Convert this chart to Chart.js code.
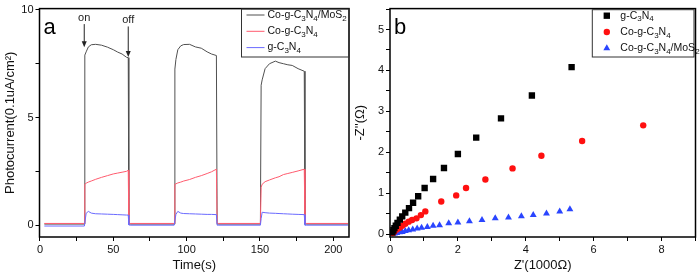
<!DOCTYPE html>
<html><head><meta charset="utf-8">
<script src="https://cdn.jsdelivr.net/npm/chart.js@4.4.0/dist/chart.umd.min.js"></script>
<style>
html,body{margin:0;padding:0;background:#fff;overflow:hidden}
#wrap{position:relative;width:700px;height:273px;background:#fff}
canvas{position:absolute;top:0}
#ca{left:0}
#cb{left:350px}
</style></head><body>
<div id="wrap"><canvas id="ca" width="350" height="273"></canvas><canvas id="cb" width="350" height="273"></canvas></div>
<script>
const FF = '"Liberation Sans", Arial, sans-serif';

// ---------- Panel a : photocurrent vs time ----------
const time = [3, 30.3, 30.6, 31.5, 33, 35, 38, 42, 46, 50, 53, 56, 59, 60.2, 60.6, 61.5,
  91.5, 92, 92.7, 94, 96, 98, 102, 106, 110, 114, 117, 120.3, 120.8, 121.5,
  150.3, 150.8, 151.5, 153.5, 156.5, 160.5, 163, 166, 169, 172, 176, 180.2, 180.7, 181.5, 210];
const photoCoMoS2 = [0.05, 0.05, 7.9, 8.05, 8.28, 8.38, 8.40, 8.36, 8.27, 8.15, 8.04, 7.95, 7.80, 7.78, 0.05, 0.05,
  0.05, 7.25, 7.7, 8.15, 8.33, 8.39, 8.40, 8.28, 8.22, 8.05, 7.95, 7.88, 0.05, 0.05,
  0.05, 6.5, 6.75, 7.27, 7.5, 7.62, 7.55, 7.5, 7.45, 7.42, 7.27, 7.15, 0.05, 0.05, 0.05];
const photoCo = [0.08, 0.08, 1.9, 1.95, 2.0, 2.05, 2.13, 2.22, 2.3, 2.38, 2.42, 2.46, 2.5, 2.55, 0.1, 0.08,
  0.08, 1.9, 1.92, 1.96, 2.0, 2.05, 2.12, 2.22, 2.3, 2.4, 2.48, 2.6, 0.1, 0.08,
  0.08, 1.76, 1.9, 2.02, 2.1, 2.2, 2.25, 2.35, 2.4, 2.45, 2.52, 2.6, 0.1, 0.08, 0.08];
const photoG = [-0.04, -0.04, -0.04, 0.55, 0.64, 0.56, 0.53, 0.52, 0.51, 0.5, 0.49, 0.48, 0.47, 0.47, 0.01, 0.0,
  0.0, 0.0, 0.5, 0.64, 0.56, 0.54, 0.53, 0.52, 0.51, 0.5, 0.5, 0.49, 0.0, 0.0,
  0.0, 0.3, 0.6, 0.58, 0.56, 0.55, 0.54, 0.53, 0.52, 0.51, 0.5, 0.49, 0.0, 0.0, 0.0];
const legendA = ['Co-g-C_3N_4/MoS_2', 'Co-g-C_3N_4', 'g-C_3N_4'];
const xLabelsA = [0, 50, 100, 150, 200];
const yLabelsA = [0, 5, 10];
const switchTimes = [30.2, 60.2];
const switchNames = ['on', 'off'];
const arrowFrom = [9.34, 9.23];
const arrowTo = [8.27, 7.81];

// ---------- Panel b : Nyquist plot ----------
const zReG = [5.35, 4.18, 3.27, 2.54, 2.0, 1.59, 1.27, 1.02, 0.83, 0.68, 0.56, 0.45, 0.36, 0.29, 0.22, 0.17, 0.13, 0.1, 0.07];
const zImG = [4.08, 3.39, 2.83, 2.36, 1.96, 1.62, 1.35, 1.13, 0.93, 0.77, 0.64, 0.53, 0.44, 0.36, 0.28, 0.21, 0.15, 0.1, 0.05];
const zReCo = [7.46, 5.66, 4.46, 3.61, 2.81, 2.24, 1.95, 1.51, 1.04, 0.91, 0.78, 0.65, 0.55, 0.45, 0.36, 0.28, 0.2, 0.13, 0.08];
const zImCo = [2.66, 2.28, 1.92, 1.61, 1.34, 1.13, 0.95, 0.80, 0.56, 0.47, 0.39, 0.35, 0.31, 0.26, 0.21, 0.16, 0.12, 0.07, 0.03];
const zReMo = [5.30, 5.0, 4.61, 4.22, 3.87, 3.49, 3.10, 2.71, 2.34, 2.0, 1.73, 1.46, 1.27, 1.10, 0.93, 0.8, 0.67, 0.55, 0.45, 0.36, 0.28, 0.2, 0.13, 0.07];
const zImMo = [0.61, 0.56, 0.51, 0.47, 0.44, 0.41, 0.39, 0.35, 0.32, 0.29, 0.27, 0.22, 0.21, 0.18, 0.16, 0.14, 0.12, 0.1, 0.08, 0.06, 0.05, 0.03, 0.02, 0.01];
const legendB = ['g-C_3N_4', 'Co-g-C_3N_4', 'Co-g-C_3N_4/MoS_2'];
const xLabelsB = [0, 2, 4, 6, 8];
const yLabelsB = [0, 1, 2, 3, 4, 5];

// ---------- helpers ----------
function drawRich(ctx, str, x, y, size) {
  const parts = str.split(/(_\d)/);
  let cx = x;
  ctx.textBaseline = 'middle';
  ctx.textAlign = 'left';
  for (const p of parts) {
    if (!p) continue;
    if (p[0] === '_') {
      ctx.font = Math.round(size * 0.72) + 'px ' + FF;
      ctx.fillText(p[1], cx, y + size * 0.32);
      cx += ctx.measureText(p[1]).width;
    } else {
      ctx.font = size + 'px ' + FF;
      ctx.fillText(p, cx, y);
      cx += ctx.measureText(p).width;
    }
  }
}
function pts(xs, ys) { return xs.map((v, i) => ({x: v, y: ys[i]})); }

function axisCommon(min, max, step, labels, fitKey, fitVal, title, titlePad) {
  return {
    type: 'linear', min: min, max: max,
    afterFit(s) { s[fitKey] = fitVal; },
    grid: {display: true, drawOnChartArea: false, drawTicks: true, tickLength: 4, color: '#000', tickColor: '#000', tickWidth: 1},
    border: {display: false},
    ticks: {stepSize: step, includeBounds: false, autoSkip: false, maxRotation: 0, padding: 2, color: '#111',
      font: {size: 11, family: FF},
      callback: (v) => labels.some(l => Math.abs(l - v) < 1e-6) ? String(Math.round(v)) : ''},
    title: {display: true, text: title, color: '#111', font: {size: 13, family: FF}, padding: titlePad}
  };
}

const framePlugin = {
  id: 'frame',
  afterDraw(chart) {
    const ctx = chart.ctx, a = chart.chartArea, o = chart.options.plugins.frame;
    ctx.save();
    ctx.strokeStyle = '#000';
    ctx.lineWidth = 1.5;
    ctx.strokeRect(a.left, a.top, a.right - a.left, a.bottom - a.top);
    // panel letter
    ctx.fillStyle = '#000';
    ctx.font = '22px ' + FF;
    ctx.textBaseline = 'alphabetic';
    ctx.textAlign = 'left';
    ctx.fillText(o.letter, a.left + 4, a.top + 25);
    // legend box
    const lb = o.legendBox;
    ctx.lineWidth = 1;
    ctx.strokeStyle = '#333';
    ctx.strokeRect(lb.x, lb.y, lb.w, lb.h);
    chart.data.datasets.forEach((ds, i) => {
      const ry = lb.y + 6 + i * 16.3;
      if (o.kind === 'line') {
        ctx.strokeStyle = ds.borderColor;
        ctx.lineWidth = 1;
        ctx.beginPath();
        ctx.moveTo(lb.x + 5, ry);
        ctx.lineTo(lb.x + 23, ry);
        ctx.stroke();
        ctx.fillStyle = '#111';
        drawRich(ctx, o.labels[i], lb.x + 26, ry, 10.5);
      } else {
        ctx.fillStyle = ds.backgroundColor;
        ctx.strokeStyle = ds.borderColor;
        Chart.helpers.drawPoint(ctx, {pointStyle: ds.pointStyle, radius: ds.pointRadius, rotation: 0, borderWidth: 0}, lb.x + 14.5, ry);
        ctx.fillStyle = '#111';
        drawRich(ctx, o.labels[i], lb.x + 28, ry, 10.5);
      }
    });
    // on/off arrows
    if (o.arrows) {
      const xs = chart.scales.x, ys = chart.scales.y;
      ctx.strokeStyle = '#222';
      ctx.fillStyle = '#222';
      ctx.lineWidth = 1;
      switchTimes.forEach((t, i) => {
        const px = xs.getPixelForValue(t);
        const y0 = ys.getPixelForValue(arrowFrom[i]);
        const y1 = ys.getPixelForValue(arrowTo[i]);
        ctx.beginPath(); ctx.moveTo(px, y0); ctx.lineTo(px, y1 - 4); ctx.stroke();
        ctx.beginPath(); ctx.moveTo(px - 2.5, y1 - 6); ctx.lineTo(px + 2.5, y1 - 6); ctx.lineTo(px, y1); ctx.closePath(); ctx.fill();
        ctx.font = '11px ' + FF;
        ctx.textAlign = 'center';
        ctx.textBaseline = 'bottom';
        ctx.fillText(switchNames[i], px, y0 - 1);
      });
    }
    ctx.restore();
  }
};

new Chart(document.getElementById('ca'), {
  type: 'line',
  data: {datasets: [
    {label: 'Co-g-C₃N₄/MoS₂', data: pts(time, photoCoMoS2), borderColor: '#505050', borderWidth: 1, pointRadius: 0, tension: 0, order: 3},
    {label: 'Co-g-C₃N₄', data: pts(time, photoCo), borderColor: '#ff5b6e', borderWidth: 1, pointRadius: 0, tension: 0, order: 2},
    {label: 'g-C₃N₄', data: pts(time, photoG), borderColor: '#6a6aff', borderWidth: 1, pointRadius: 0, tension: 0, order: 1}
  ]},
  options: {
    responsive: false, animation: false, devicePixelRatio: 1,
    layout: {padding: {top: 6, right: 1, left: 0, bottom: 0}},
    plugins: {legend: {display: false}, tooltip: {enabled: false},
      frame: {letter: 'a', kind: 'line', labels: legendA, arrows: true, legendBox: {x: 241.5, y: 9, w: 107.5, h: 48}}},
    scales: {
      x: axisCommon(-0.3, 210.7, 25, xLabelsA, 'height', 36, 'Time(s)', {top: 0, bottom: 0}),
      y: axisCommon(-0.55, 10.06, 2.5, yLabelsA, 'width', 39.5, 'Photocurrent(0.1uA/cm²)', {top: 3, bottom: 0})
    }
  },
  plugins: [framePlugin]
});

new Chart(document.getElementById('cb'), {
  type: 'scatter',
  data: {datasets: [
    {label: 'g-C₃N₄', data: pts(zReG, zImG), pointStyle: 'rect', pointRadius: 4.5, backgroundColor: '#000', borderColor: '#000', borderWidth: 0},
    {label: 'Co-g-C₃N₄', data: pts(zReCo, zImCo), pointStyle: 'circle', pointRadius: 3.2, backgroundColor: '#ff1010', borderColor: '#ff1010', borderWidth: 0},
    {label: 'Co-g-C₃N₄/MoS₂', data: pts(zReMo, zImMo), pointStyle: 'triangle', pointRadius: 4, backgroundColor: '#2a45ff', borderColor: '#2a45ff', borderWidth: 0}
  ]},
  options: {
    responsive: false, animation: false, devicePixelRatio: 1,
    layout: {padding: {top: 6, right: 2, left: 0, bottom: 0}},
    plugins: {legend: {display: false}, tooltip: {enabled: false},
      frame: {letter: 'b', kind: 'point', labels: legendB, arrows: false, legendBox: {x: 242.3, y: 9.7, w: 101.7, h: 47.3}}},
    scales: {
      x: axisCommon(0, 9, 1, xLabelsB, 'height', 36, "Z'(1000Ω)", {top: 0, bottom: 0}),
      y: axisCommon(-0.065, 5.51, 0.5, yLabelsB, 'width', 40, "-Z''(Ω)", {top: 3, bottom: 0})
    }
  },
  plugins: [framePlugin]
});
</script>
</body></html>
